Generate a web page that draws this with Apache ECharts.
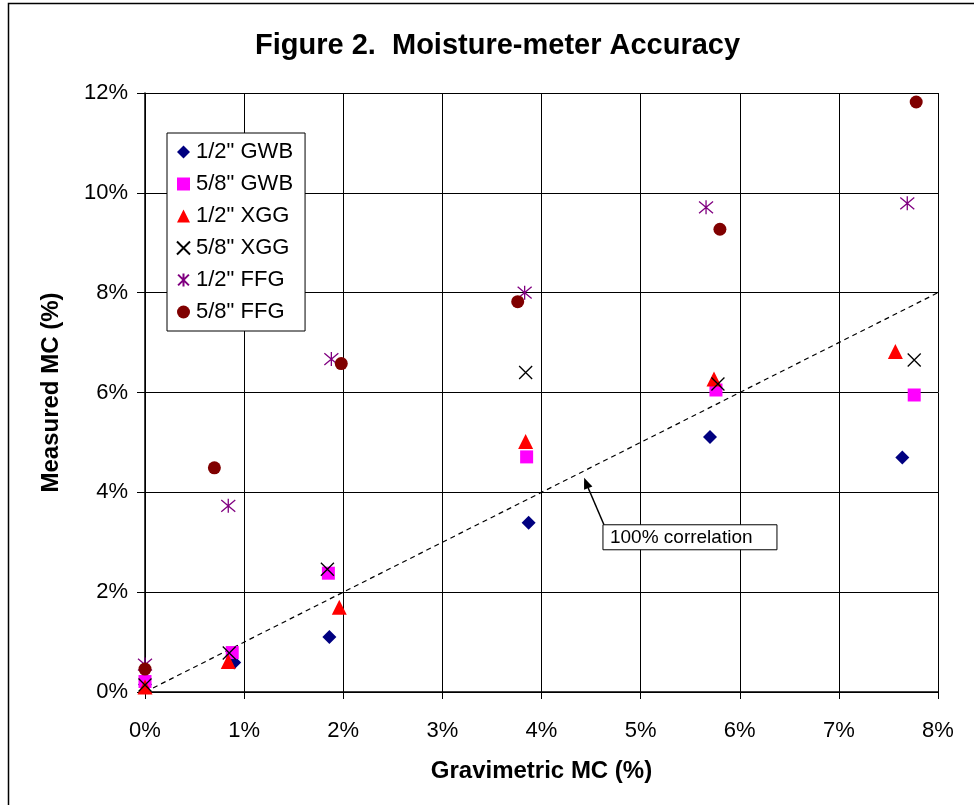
<!DOCTYPE html>
<html>
<head>
<meta charset="utf-8">
<script src="https://cdn.jsdelivr.net/npm/echarts@6/dist/echarts.min.js"></script>
<style>
html,body{margin:0;padding:0;background:#fff;}
#chart{width:974px;height:805px;}
</style>
</head>
<body>
<div id="chart"></div>
<script>
// ---- data (Gravimetric MC %, Measured MC %) ----
const seriesNames = ['1/2" GWB', '5/8" GWB', '1/2" XGG', '5/8" XGG', '1/2" FFG', '5/8" FFG'];
const gwb12 = [[0, 0.15], [0.90, 0.59], [1.86, 1.10], [3.87, 3.39], [5.70, 5.11], [7.64, 4.70]];
const gwb58 = [[0, 0.21], [0.88, 0.79], [1.85, 2.38], [3.85, 4.71], [5.76, 6.05], [7.76, 5.95]];
const xgg12 = [[0, 0.10], [0.84, 0.61], [1.96, 1.70], [3.84, 5.02], [5.74, 6.27], [7.57, 6.82]];
const xgg58 = [[0, 0.14], [0.85, 0.78], [1.84, 2.46], [3.84, 6.40], [5.78, 6.17], [7.76, 6.65]];
const ffg12 = [[0, 0.55], [0.84, 3.73], [1.88, 6.67], [3.83, 8.00], [5.66, 9.71], [7.69, 9.79]];
const ffg58 = [[0, 0.46], [0.70, 4.49], [1.98, 6.58], [3.76, 7.82], [5.80, 9.27], [7.78, 11.82]];
const correlationLine = [[0, 0], [8, 8]];
const annotationText = '100% correlation';
const annotationTip = [4.43, 4.29];
const annotationBox = [4.62, 3.35];
const xTicks = {min: 0, max: 8, interval: 1};
const yTicks = {min: 0, max: 12, interval: 2};

const FONT = 'Liberation Sans, Arial, sans-serif';
const chart = echarts.init(document.getElementById('chart'), null, {renderer: 'canvas'});

const xPath = 'path://M0,0L10,10M10,0L0,10';
const starPath = 'path://M0,0L10,10M10,0L0,10M5,-1L5,11';

function sc(name, data, symbol, size, color, stroke) {
  return {
    name: name, type: 'scatter', data: data, symbol: symbol, symbolSize: size,
    itemStyle: stroke ? {color: 'rgba(0,0,0,0)', borderColor: color, borderWidth: 1.3, opacity: 1}
                      : {color: color, opacity: 1},
    emphasis: {disabled: true}, z: 3
  };
}

const option = {
  animation: false,
  backgroundColor: '#fff',
  title: {
    text: 'Figure 2.  Moisture-meter Accuracy',
    left: 250, top: 26,
    textStyle: {fontFamily: FONT, fontSize: 29, fontWeight: 'bold', color: '#000'}
  },
  grid: {left: 145, top: 93, right: 36, bottom: 113, containLabel: false},
  xAxis: {
    type: 'value', min: xTicks.min, max: xTicks.max, interval: xTicks.interval,
    name: 'Gravimetric MC (%)', nameLocation: 'middle', nameGap: 67,
    nameTextStyle: {fontFamily: FONT, fontSize: 24, fontWeight: 'bold', color: '#000'},
    axisLine: {show: true, onZero: false, lineStyle: {color: '#000', width: 1.5}},
    axisTick: {show: true, length: 7, lineStyle: {color: '#000'}},
    axisLabel: {formatter: '{value}%', fontFamily: FONT, fontSize: 22, color: '#000', margin: 28},
    splitLine: {show: true, lineStyle: {color: '#000', width: 1}}
  },
  yAxis: {
    type: 'value', min: yTicks.min, max: yTicks.max, interval: yTicks.interval,
    name: 'Measured MC (%)', nameLocation: 'middle', nameGap: 82,
    nameTextStyle: {fontFamily: FONT, fontSize: 24, fontWeight: 'bold', color: '#000'},
    axisLine: {show: true, onZero: false, lineStyle: {color: '#000', width: 1.5}},
    axisTick: {show: true, length: 8, lineStyle: {color: '#000'}},
    axisLabel: {formatter: '{value}%', fontFamily: FONT, fontSize: 22, color: '#000', margin: 17},
    splitLine: {show: true, lineStyle: {color: '#000', width: 1}}
  },
  legend: {
    data: seriesNames,
    orient: 'vertical', left: 167, top: 133,
    itemWidth: 13, itemHeight: 13, itemGap: 10,
    padding: [8, 12, 8, 9],
    borderColor: '#000', borderWidth: 1, backgroundColor: '#fff',
    textStyle: {fontFamily: FONT, fontSize: 22, color: '#000', padding: [0, 0, 0, 1]},
    selectedMode: false
  },
  series: [
    sc(seriesNames[0], gwb12, 'diamond', 14, '#000080'),
    sc(seriesNames[1], gwb58, 'rect', 13, '#FF00FF'),
    sc(seriesNames[2], xgg12, 'triangle', 15, '#FF0000'),
    sc(seriesNames[3], xgg58, xPath, 13, '#000000', true),
    sc(seriesNames[4], ffg12, starPath, 14, '#800080', true),
    sc(seriesNames[5], ffg58, 'circle', 13, '#800000'),
    {
      name: 'correlation', type: 'line', data: correlationLine, showSymbol: false, symbol: 'none',
      lineStyle: {color: '#000', width: 1.2, type: [5, 4]}, silent: true, z: 2
    }
  ]
};
chart.setOption(option);

// annotation (arrow + boxed label), positioned through the chart's scales
const tip = chart.convertToPixel({gridIndex: 0}, annotationTip);
const box = chart.convertToPixel({gridIndex: 0}, annotationBox);
const ang = Math.atan2(tip[1] - box[1], tip[0] - box[0]);
const ah = 11, aw = 4.5;
const bx = tip[0] - ah * Math.cos(ang), by = tip[1] - ah * Math.sin(ang);
const px = -Math.sin(ang), py = Math.cos(ang);
chart.setOption({
  graphic: [
    {type: 'rect', left: 6, top: 1, silent: true, z: 0,
     shape: {x: 0, y: 0, width: 1000, height: 803},
     style: {fill: 'none', stroke: '#000', lineWidth: 1.5}},
    {type: 'line', silent: true, z: 10,
     shape: {x1: box[0] + 1, y1: box[1], x2: bx, y2: by},
     style: {stroke: '#000', lineWidth: 1.5}},
    {type: 'polygon', silent: true, z: 10,
     shape: {points: [[tip[0], tip[1]], [bx + px * aw, by + py * aw], [bx - px * aw, by - py * aw]]},
     style: {fill: '#000'}},
    {type: 'rect', silent: true, z: 10,
     shape: {x: box[0], y: box[1], width: 174, height: 25},
     style: {fill: '#fff', stroke: '#000', lineWidth: 1}},
    {type: 'text', silent: true, z: 11,
     x: box[0] + 7, y: box[1] + 13,
     style: {text: annotationText, fontFamily: FONT, fontSize: 19, fill: '#000', verticalAlign: 'middle'}}
  ]
});
</script>
</body>
</html>
